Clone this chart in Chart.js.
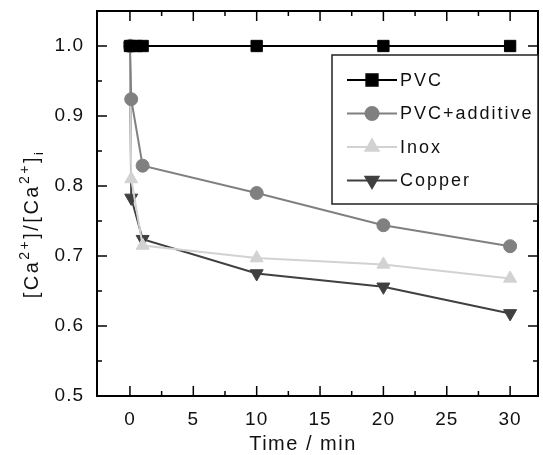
<!DOCTYPE html>
<html>
<head>
<meta charset="utf-8">
<script src="https://cdn.jsdelivr.net/npm/chart.js@4"></script>
<style>
  body { margin: 0; background: #fff; }
  #wrap { width: 543px; height: 455px; }
</style>
</head>
<body>
<div id="wrap"><canvas id="chart"></canvas></div>
<script>
// values
const pvcTime      = [0, 0.5, 1, 10, 20, 30];
const pvcValue     = [1.0, 1.0, 1.0, 1.0, 1.0, 1.0];
const additiveTime = [0, 0.1, 1, 10, 20, 30];
const additiveVal  = [1.0, 0.924, 0.829, 0.790, 0.744, 0.714];
const inoxTime     = [0, 0.1, 1, 10, 20, 30];
const inoxVal      = [1.0, 0.810, 0.715, 0.697, 0.688, 0.668];
const copperTime   = [0, 0.1, 1, 10, 20, 30];
const copperVal    = [1.0, 0.783, 0.724, 0.675, 0.656, 0.618];

const xTicks      = [0, 5, 10, 15, 20, 25, 30];
const xMinorTicks = [2.5, 7.5, 12.5, 17.5, 22.5, 27.5];
const yTicks      = [0.5, 0.6, 0.7, 0.8, 0.9, 1.0];
const yMinorTicks = [0.55, 0.65, 0.75, 0.85, 0.95];

const FONT = "'Liberation Sans', Arial, sans-serif";

function toPoints(xs, ys) {
    return xs.map((x, i) => ({x: x, y: ys[i]}));
}

const series = [
    {label: "PVC",          data: toPoints(pvcTime, pvcValue),         color: "#000000", style: "rect",     radius: 8,   rotation: 0},
    {label: "PVC+additive", data: toPoints(additiveTime, additiveVal), color: "#808080", style: "circle",   radius: 6.5, rotation: 0},
    {label: "Inox",         data: toPoints(inoxTime, inoxVal),         color: "#d2d2d2", style: "triangle", radius: 7.5, rotation: 0},
    {label: "Copper",       data: toPoints(copperTime, copperVal),     color: "#404040", style: "triangle", radius: 7.5, rotation: 180},
];

//-----------------------------------------------------------------------------
// wider letter spacing for every text the library draws
//-----------------------------------------------------------------------------
const spacing = {
    id: "spacing",
    beforeInit(chart) { chart.ctx.letterSpacing = "1px"; },
    beforeDraw(chart) { chart.ctx.letterSpacing = "1px"; }
};

//-----------------------------------------------------------------------------
// frame with inward ticks on all four sides
//-----------------------------------------------------------------------------
const frameTicks = {
    id: "frameTicks",
    afterDatasetsDraw(chart) {
        const {ctx, chartArea: a, scales: {x, y}} = chart;
        ctx.save();
        ctx.strokeStyle = "#000";
        ctx.lineWidth = 1.5;
        const tick = (x1, y1, x2, y2) => {
            ctx.beginPath(); ctx.moveTo(x1, y1); ctx.lineTo(x2, y2); ctx.stroke();
        };
        xTicks.forEach(v => {
            const px = x.getPixelForValue(v);
            tick(px, a.bottom, px, a.bottom - 10);
            tick(px, a.top, px, a.top + 10);
        });
        xMinorTicks.forEach(v => {
            const px = x.getPixelForValue(v);
            tick(px, a.bottom, px, a.bottom - 5);
            tick(px, a.top, px, a.top + 5);
        });
        yTicks.forEach(v => {
            const py = y.getPixelForValue(v);
            tick(a.left, py, a.left + 10, py);
            tick(a.right, py, a.right - 10, py);
        });
        yMinorTicks.forEach(v => {
            const py = y.getPixelForValue(v);
            tick(a.left, py, a.left + 5, py);
            tick(a.right, py, a.right - 5, py);
        });
        ctx.lineWidth = 2;
        ctx.strokeRect(a.left, a.top, a.right - a.left, a.bottom - a.top);
        ctx.restore();
    }
};

//-----------------------------------------------------------------------------
// legend box in the upper right of the plot
//-----------------------------------------------------------------------------
const boxLegend = {
    id: "boxLegend",
    afterDraw(chart) {
        const {ctx, chartArea: a} = chart;
        const left = a.left + 235, top = a.top + 44;
        ctx.save();
        ctx.fillStyle = "#fff";
        ctx.fillRect(left, top, a.right - left, 149);
        ctx.strokeStyle = "#222";
        ctx.lineWidth = 1.5;
        ctx.strokeRect(left, top, a.right - left, 149);
        ctx.font = "18px " + FONT;
        ctx.letterSpacing = "2px";
        ctx.textBaseline = "middle";
        series.forEach((s, i) => {
            const rowY = top + 25 + i * 33.5;
            ctx.strokeStyle = s.color;
            ctx.fillStyle = s.color;
            ctx.lineWidth = 2;
            ctx.beginPath(); ctx.moveTo(left + 15, rowY); ctx.lineTo(left + 65, rowY); ctx.stroke();
            Chart.helpers.drawPoint(ctx, {pointStyle: s.style, radius: s.radius, rotation: s.rotation, borderWidth: 1}, left + 40, rowY);
            ctx.fillStyle = "#111";
            ctx.fillText(s.label, left + 68, rowY + 1);
        });
        ctx.restore();
    }
};

//-----------------------------------------------------------------------------
// axis titles: y with superscripts and subscript, x a little left of centre
//-----------------------------------------------------------------------------
const axisTitles = {
    id: "axisTitles",
    afterDraw(chart) {
        const {ctx} = chart;
        const parts = [
            ["[Ca", 0, 20], ["2+", -9, 14], ["]/[Ca", 0, 20], ["2+", -9, 14], ["]", 0, 20], ["i", 5, 13]
        ];
        ctx.save();
        ctx.fillStyle = "#111";
        ctx.letterSpacing = "2.5px";
        ctx.textBaseline = "alphabetic";
        let total = 0;
        parts.forEach(p => { ctx.font = p[2] + "px " + FONT; total += ctx.measureText(p[0]).width; });
        ctx.translate(38, 224);
        ctx.rotate(-Math.PI / 2);
        let cx = -total / 2;
        parts.forEach(p => {
            ctx.font = p[2] + "px " + FONT;
            ctx.fillText(p[0], cx, p[1]);
            cx += ctx.measureText(p[0]).width;
        });
        ctx.restore();

        ctx.save();
        ctx.fillStyle = "#111";
        ctx.font = "20px " + FONT;
        ctx.letterSpacing = "1.5px";
        ctx.textAlign = "center";
        ctx.textBaseline = "middle";
        ctx.fillText("Time / min", 303, 444);
        ctx.restore();
    }
};

const ctx = document.getElementById("chart").getContext("2d");
const chart = new Chart(ctx, {
    type: "line",
    data: {
        datasets: series.map(s => ({
            label: s.label,
            data: s.data,
            borderColor: s.color,
            backgroundColor: s.color,
            pointBackgroundColor: s.color,
            pointBorderColor: s.color,
            pointStyle: s.style,
            pointRadius: s.radius,
            pointRotation: s.rotation,
            pointBorderWidth: 1,
            borderWidth: 2,
            tension: 0,
            fill: false
        }))
    },
    options: {
        responsive: true,
        maintainAspectRatio: false,
        animation: false,
        layout: { autoPadding: false, padding: {top: 11, right: 5, left: 0, bottom: 0} },
        plugins: {
            legend: { display: false },
            tooltip: { enabled: false }
        },
        scales: {
            x: {
                type: "linear",
                min: -2.6,
                max: 32.2,
                afterBuildTicks: s => { s.ticks = xTicks.map(v => ({value: v})); },
                afterFit: s => { s.height = 59; s.paddingLeft = 0; s.paddingRight = 0; },
                grid: { display: false, drawTicks: false },
                border: { display: false },
                ticks: {
                    padding: 12,
                    color: "#111",
                    font: { size: 19, family: FONT },
                    maxRotation: 0
                },
                title: { display: false }
            },
            y: {
                min: 0.5,
                max: 1.05,
                afterBuildTicks: s => { s.ticks = yTicks.map(v => ({value: v})); },
                afterFit: s => { s.width = 97; s.paddingTop = 0; s.paddingBottom = 0; },
                grid: { display: false, drawTicks: false },
                border: { display: false },
                ticks: {
                    padding: 13,
                    color: "#111",
                    font: { size: 19, family: FONT },
                    callback: v => v.toFixed(1)
                }
            }
        }
    },
    plugins: [spacing, frameTicks, boxLegend, axisTitles]
});
</script>
</body>
</html>
